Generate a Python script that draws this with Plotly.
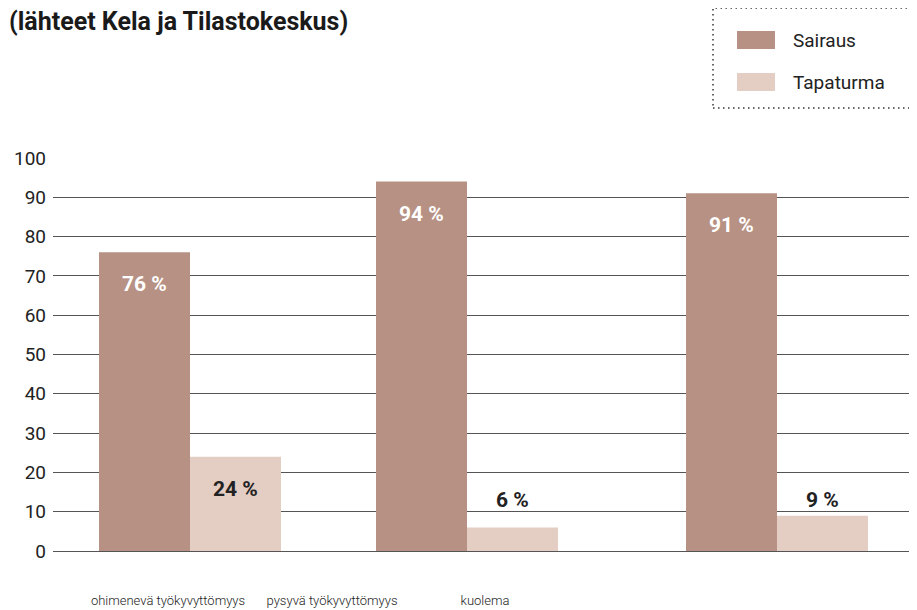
import plotly.graph_objects as go

# ---- data ----
categories = ["ohimenevä työkyvyttömyys", "pysyvä työkyvyttömyys", "kuolema"]
series_names = ["Sairaus", "Tapaturma"]
sairaus = [76, 94, 91]
tapaturma = [24, 6, 9]
y_ticks = [0, 10, 20, 30, 40, 50, 60, 70, 80, 90, 100]
title_text = "(lähteet Kela ja Tilastokeskus)"

# ---- layout constants (not data) ----
colors = ["#b79183", "#e4cdc2"]
OFF = 8                                # page body margin
W, H = 917 - OFF, 610 - OFF
ML, MR, MT = 53 - OFF, 2, 158 - OFF
PLOT_BOTTOM = 551 - OFF
MB = H - PLOT_BOTTOM
PW, PH = W - ML - MR, PLOT_BOTTOM - MT
group_centers = [137, 414, 724]      # x-axis units (pixels inside plot area)
label_pos = [115, 279, 432]
bar_w = 91
small_label_y = 13

def px(x):          # screen x -> paper
    return (x - OFF - ML) / PW

def py(y):          # screen y -> paper
    return (PLOT_BOTTOM - (y - OFF)) / PH

fig = go.Figure()
fig.add_trace(go.Bar(x=group_centers, y=sairaus, name=series_names[0],
                     width=bar_w, offset=-bar_w, marker_color=colors[0],
                     marker_line_width=0, showlegend=False))
fig.add_trace(go.Bar(x=group_centers, y=tapaturma, name=series_names[1],
                     width=bar_w, offset=0, marker_color=colors[1],
                     marker_line_width=0, showlegend=False))

annotations = []
for vals, sign in ((sairaus, -1), (tapaturma, 1)):
    for xc, v in zip(group_centers, vals):
        big = v >= 20
        annotations.append(dict(
            x=xc + sign * bar_w / 2, y=v if big else small_label_y,
            yshift=-32 if big else 0, xref="x", yref="y",
            text=f"{v} %", showarrow=False,
            font=dict(family="Roboto", size=21, weight="bold",
                      color="#ffffff" if sign < 0 else "#222222"),
            xanchor="center", yanchor="middle"))

# title
annotations.append(dict(x=px(7), y=py(21), xref="paper", yref="paper",
                        text=f"<b>{title_text}</b>", showarrow=False,
                        xanchor="left", yanchor="middle",
                        font=dict(family="Roboto", size=25, color="#1a1a1a")))

# legend (manual)
shapes = [dict(type="rect", xref="paper", yref="paper",
               x0=px(713), x1=px(920), y0=py(108), y1=py(8),
               line=dict(color="#333333", width=1.5, dash="1.5px,3.5px"))]
legend_rows = [40, 82]
for name, col, yc in zip(series_names, colors, legend_rows):
    shapes.append(dict(type="rect", xref="paper", yref="paper",
                       x0=px(737), x1=px(775), y0=py(yc + 9), y1=py(yc - 9),
                       fillcolor=col, line=dict(width=0)))
    annotations.append(dict(x=px(791), y=py(yc), xref="paper", yref="paper",
                            text=name, showarrow=False, xanchor="left",
                            yanchor="middle",
                            font=dict(family="Roboto", size=19, color="#222222")))

fig.update_layout(
    width=W, height=H,
    margin=dict(l=ML, r=MR, t=MT, b=MB, autoexpand=False),
    paper_bgcolor="white", plot_bgcolor="white",
    barmode="overlay",
    showlegend=False,
    annotations=annotations,
    shapes=shapes,
    xaxis=dict(range=[0, PW], tickvals=label_pos, ticktext=categories,
               showgrid=False, zeroline=False, showline=False, ticks="",
               tickangle=0, automargin=False,
               ticklabelstandoff=40,
               tickfont=dict(family="Roboto", size=13, weight=300,
                             color="#222222")),
    yaxis=dict(range=[0, 100], tickvals=y_ticks, showgrid=True,
               gridcolor="#555555", gridwidth=1, zeroline=True,
               zerolinecolor="#555555", zerolinewidth=1, showline=False,
               ticks="", ticklabelstandoff=6, automargin=False,
               tickfont=dict(family="Roboto", size=19, color="#222222")),
)

fig.write_html("out.html")
